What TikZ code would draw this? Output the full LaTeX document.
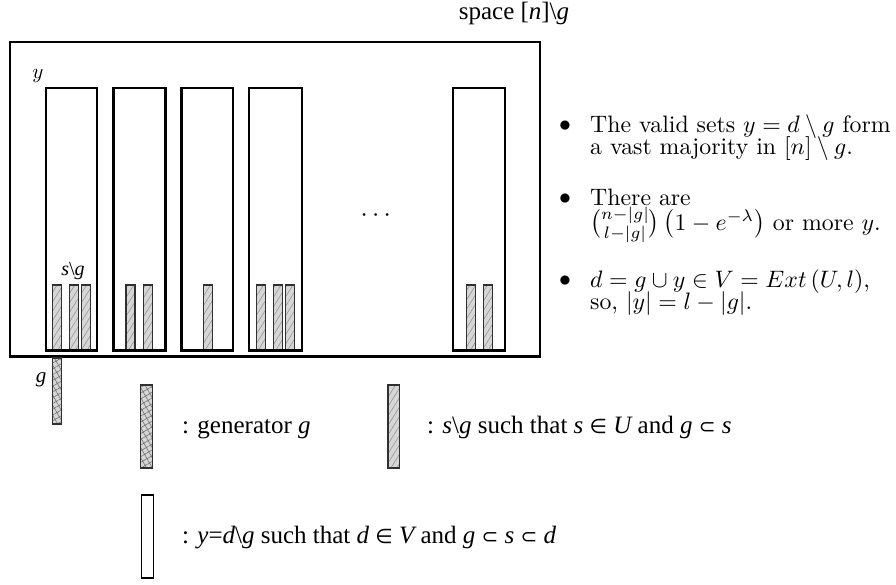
\documentclass[tikz,border=0pt]{standalone}
\usepackage{amsmath}
\usepackage{fontspec}
\usetikzlibrary{patterns.meta}
\newfontfamily\tms{Liberation Serif}
\newfontfamily\djv{DejaVu Sans}
\newcommand{\ti}[1]{{\itshape #1}}
\newcommand{\symb}[1]{{\djv\fontsize{20}{20}\selectfont #1}}
\newcommand{\sbx}[1]{\scalebox{2.38}{#1}}
\definecolor{barfill}{HTML}{D6D6D6}
\definecolor{hatchcol}{HTML}{959595}
\definecolor{barline}{HTML}{303030}
\tikzset{
  outerbox/.style={draw=black, line width=2.6pt},
  ybox/.style={draw=black, line width=2.1pt},
  sbar/.style={draw=barline, line width=1.2pt, preaction={fill=barfill},
    pattern={Lines[angle=58, distance=5pt, line width=0.6pt]}, pattern color=hatchcol},
  gbar/.style={draw=barline, line width=1.2pt, preaction={fill=barfill},
    pattern={Hatch[angle=30, distance=5pt, line width=0.6pt]}, pattern color=black!55},
  wbar/.style={draw=black, line width=1.3pt, fill=white},
  timestext/.style={font=\tms\fontsize{25}{25}\selectfont, inner sep=0pt},
  cmtext/.style={font=\fontsize{10}{12}\selectfont, inner sep=0pt},
  lbl/.style={inner sep=0pt}
}
\begin{document}
\begin{tikzpicture}[x=1pt,y=-1pt]
\useasboundingbox (0,0) rectangle (896,584);
% title
\node[timestext, anchor=base] (title) at (514,19) {space [\ti{n}]\textbackslash\ti{g}};
% s\g bars (drawn before boxes)
\foreach \bx in {52.7,69.7,81.7, 126,143.3, 203.3, 256.7,273.3,285.7, 466.7,483.7}
  \draw[sbar] (\bx,285) rectangle ++(9,65.5);
% y boxes
\foreach \lx/\rx in {46/97.3, 113.5/165.5, 181.5/233.3, 249.3/301.6, 453.3/505}
  \draw[ybox] (\lx,88.3) rectangle (\rx,350.5);
% outer box
\draw[outerbox] (10,42) rectangle (540,356.5);
% generator bar below
\draw[gbar] (52.7,358) rectangle (61.7,424);
% labels
\node[lbl, cmtext] (ylbl) at (38,76) {\scalebox{2.1}{$y$}};
\node[lbl, font=\tms\fontsize{20}{20}\selectfont] (sglbl) at (73,271) {\ti{s}\textbackslash\ti{g}};
\node[lbl, font=\tms\fontsize{21}{21}\selectfont] (glbl) at (41,380) {\ti{g}};
\node[lbl, cmtext] (dots) at (378,216) {\scalebox{2.6}{$\cdots$}};
% bullets
\node[cmtext] (bu1) at (565,126) {\sbx{$\bullet$}};
\node[cmtext, anchor=base west] (t1a) at (590,132) {\sbx{The valid sets $y=d\setminus g$ form}};
\node[cmtext, anchor=base west] (t1b) at (590,154) {\sbx{a vast majority in $[n]\setminus g$.}};
\node[cmtext] (bu2) at (565,199) {\sbx{$\bullet$}};
\node[cmtext, anchor=base west] (t2a) at (590,205) {\sbx{There are}};
\node[cmtext, anchor=base west] (t2b) at (590,230) {\sbx{$\binom{n-|g|}{l-|g|}\left(1-e^{-\lambda}\right)$ or more $y$.}};
\node[cmtext] (bu3) at (565,281) {\sbx{$\bullet$}};
\node[cmtext, anchor=base west] (t3a) at (590,287) {\sbx{$d=g\cup y\in V=Ext\left(U,l\right)$,}};
\node[cmtext, anchor=base west] (t3b) at (590,309) {\sbx{so, $|y|=l-|g|$.}};
% legend
\draw[gbar] (140.7,385) rectangle (152.7,468);
\node[timestext, anchor=base west] (lg1) at (182,433) {: generator \ti{g}};
\draw[sbar] (388,385) rectangle (399.3,468);
\node[timestext, anchor=base west] (lg2) at (427,433) {: \ti{s}\textbackslash\ti{g} such that \ti{s} \symb{∈} \ti{U} and \ti{g} \symb{⊂} \ti{s}};
\draw[wbar] (141.7,495) rectangle (153.3,578);
\node[timestext, anchor=base west] (lg3) at (182,543) {: \ti{y}=\ti{d}\textbackslash\ti{g} such that \ti{d} \symb{∈} \ti{V} and \ti{g} \symb{⊂} \ti{s} \symb{⊂} \ti{d}};
\end{tikzpicture}
\end{document}
